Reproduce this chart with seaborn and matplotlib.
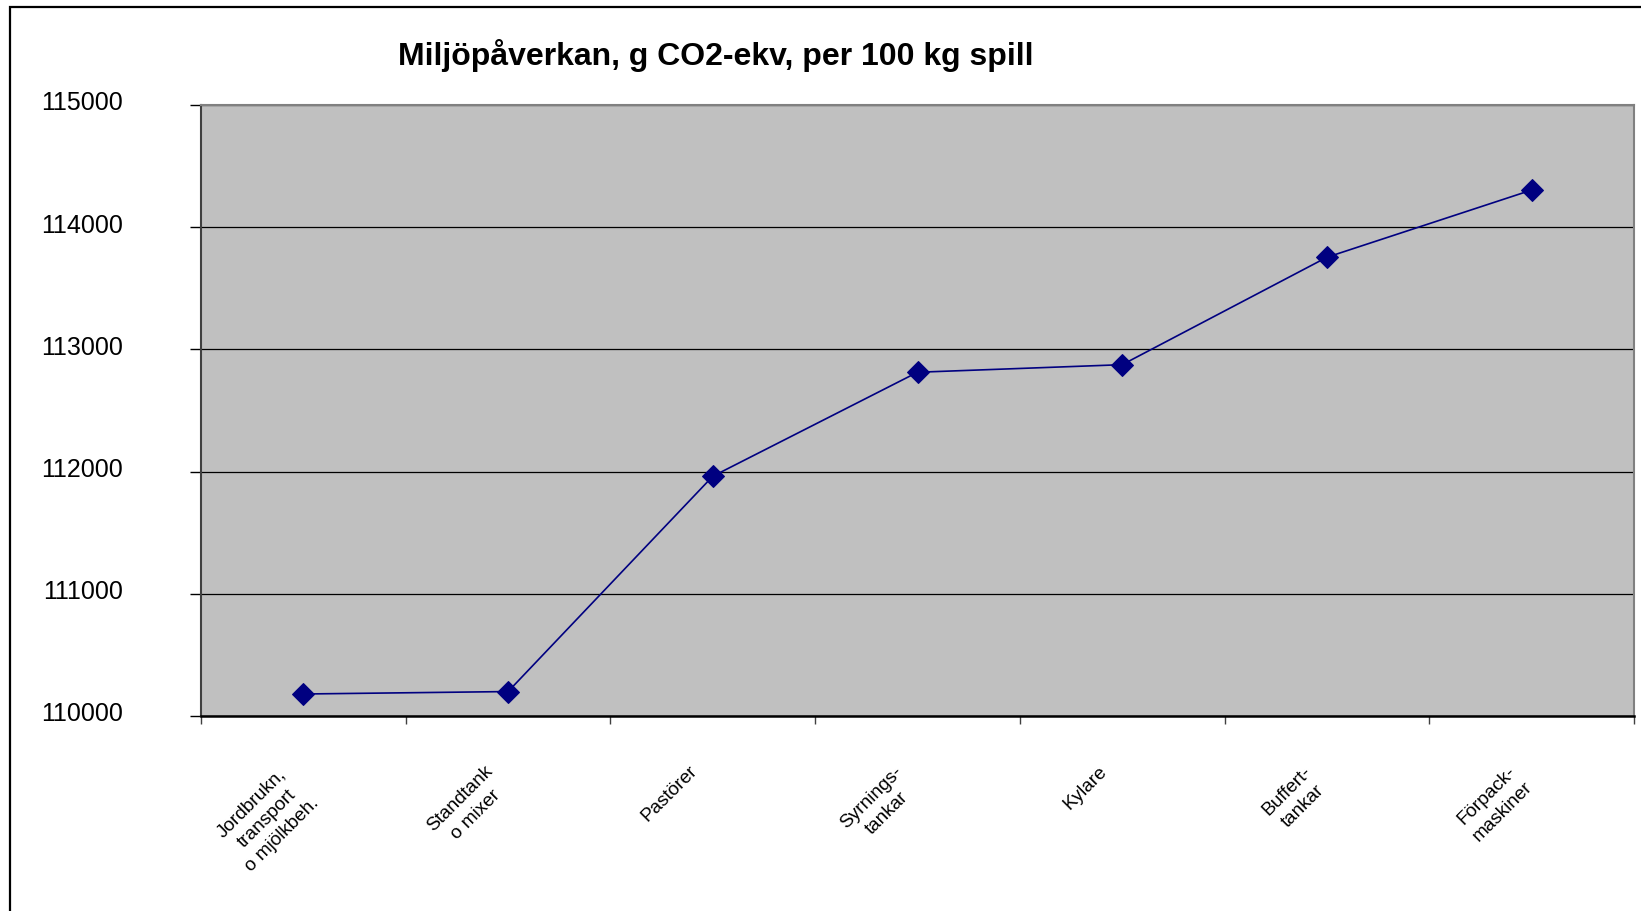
import numpy as np
import pandas as pd
import seaborn as sns
import matplotlib.pyplot as plt
from matplotlib.patches import Rectangle
from matplotlib.transforms import ScaledTranslation

# Data
categories = [
    "Jordbrukn,\ntransport\no mjölkbeh.",
    "Standtank\no mixer",
    "Pastörer",
    "Syrnings-\ntankar",
    "Kylare",
    "Buffert-\ntankar",
    "Förpack-\nmaskiner",
]
co2_values = [110180, 110200, 111962, 112813, 112875, 113754, 114304]
y_ticks = [110000, 111000, 112000, 113000, 114000, 115000]

title = "Miljöpåverkan, g CO2-ekv, per 100 kg spill"

sns.set_style("white")
plt.rcParams['font.family'] = ['Liberation Sans', 'DejaVu Sans']
plt.rcParams['text.color'] = 'black'
plt.rcParams['xtick.color'] = 'black'
plt.rcParams['ytick.color'] = 'black'

df = pd.DataFrame({"steg": categories, "co2": co2_values})

fig = plt.figure(figsize=(16.41, 9.12), dpi=100)
ax = fig.add_axes([201 / 1641, 1 - 717 / 912, 1433 / 1641, 611 / 912])
ax.set_facecolor("#C0C0C0")

sns.lineplot(data=df, x="steg", y="co2", ax=ax, color="#000080", linewidth=1.2,
             marker="D", markersize=11, markeredgecolor="#000080", sort=False)

# y axis
ax.set_ylim(y_ticks[0], y_ticks[-1])
ax.set_yticks(y_ticks)
ax.set_yticklabels([str(v) for v in y_ticks], fontsize=18)
ax.yaxis.grid(True, color="black", linewidth=0.9)
ax.tick_params(axis="y", left=True, direction="out", length=8, width=1,
               color="black", pad=48)
for lbl in ax.get_yticklabels():
    lbl.set_transform(lbl.get_transform() + ScaledTranslation(0, 5 / 100, fig.dpi_scale_trans))

# x axis: labels at category centres, tick marks at the boundaries
ax.set_xlim(-0.5, len(categories) - 0.5)
ax.set_xticks(range(len(categories)))
ax.set_xticklabels(categories, fontsize=13.7, rotation=45, ha="right",
                   va="top", rotation_mode="anchor", multialignment="center",
                   linespacing=1.4)
ax.set_xticks(np.arange(-0.5, len(categories)), minor=True)
ax.tick_params(axis="x", which="major", length=0, pad=33)
ax.tick_params(axis="x", which="minor", bottom=True, direction="out", length=6,
               width=1, color="#404040")
for lbl in ax.get_xticklabels():
    lbl.set_transform(lbl.get_transform() + ScaledTranslation(-24 / 100, 0, fig.dpi_scale_trans))

ax.set_xlabel("")
ax.set_ylabel("")

for side in ["top", "right"]:
    ax.spines[side].set_visible(True)
    ax.spines[side].set_color("#808080")
    ax.spines[side].set_linewidth(1.5)
ax.spines["left"].set_color("#404040")
ax.spines["left"].set_linewidth(1.5)
ax.spines["bottom"].set_color("black")
ax.spines["bottom"].set_linewidth(1.8)

fig.text(716 / 1641, 1 - 55 / 912, title, ha="center", va="center",
         fontsize=23, fontweight="bold")

# outer chart frame, cut off at right and bottom like the reference
fig.patches.append(Rectangle((10 / 1641, -0.1), 1.2, 1.1 - 8 / 912,
                             transform=fig.transFigure, fill=False,
                             edgecolor="black", linewidth=1.6))

fig.savefig("out.png", dpi=100)
